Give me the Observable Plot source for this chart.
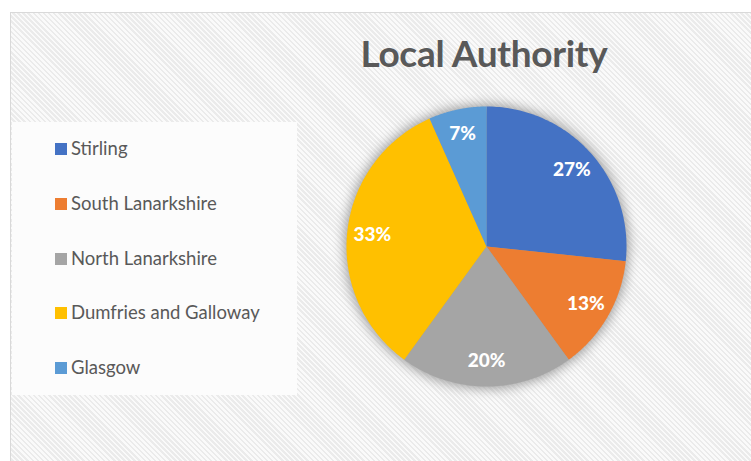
<!DOCTYPE html>
<html><head><meta charset="utf-8">
<script src="https://cdn.jsdelivr.net/npm/d3@7"></script>
<script src="https://cdn.jsdelivr.net/npm/@observablehq/plot@0.6"></script>
<style>
body{margin:0;background:#fff;}
#wrap{position:relative;width:751px;height:461px;overflow:hidden;font-family:Lato,"Open Sans",sans-serif;}
#area{position:absolute;left:10px;top:12px;width:745px;height:455px;border-top:1px solid #d9d9d9;border-left:1px solid #d9d9d9;
 background:repeating-linear-gradient(45deg,#fafafa 0 1.8px,#ebebeb 1.8px 3.6px);}
#title{position:absolute;left:0;width:968px;top:30px;text-align:center;font-weight:700;font-size:37px;color:#595959;letter-spacing:-0.3px;}
#legend{position:absolute;left:12px;top:122px;width:285px;height:273px;background:#fcfcfc;}
.item{position:absolute;left:43px;font-size:18.5px;color:#595959;line-height:20px;white-space:nowrap;}
.sw{display:inline-block;width:12px;height:12px;margin-right:4px;vertical-align:0px;}
#plot{position:absolute;left:0;top:0;}
#plot svg{background:transparent;}
#plot g[aria-label="dot"] circle{filter:blur(6px);}
</style></head>
<body>
<div id="wrap">
  <div id="area"></div>
  <div id="plot"></div>
  <div id="title">Local Authority</div>
  <div id="legend"></div>
</div>
<script>
const names = ["Stirling","South Lanarkshire","North Lanarkshire","Dumfries and Galloway","Glasgow"];
const counts = [4,2,3,5,1];
const pctLabels = ["27%","13%","20%","33%","7%"];
const colors = ["#4472c4","#ed7d31","#a5a5a5","#ffc000","#5b9bd5"];

const W = 751, H = 461, R = 140, CX = 486, CY = 246;
const arcs = d3.pie().sort(null).value(d => d)(counts);

const sliceMarks = arcs.map((a, i) => {
  const pts = [{x:0, y:0}];
  const n = 90;
  for (let k = 0; k <= n; k++) {
    const t = a.startAngle + (a.endAngle - a.startAngle) * k / n;
    pts.push({x: Math.sin(t), y: Math.cos(t)});
  }
  pts.push({x:0, y:0});
  return Plot.line(pts, {x:"x", y:"y", fill: colors[i], stroke: "none"});
});

const labelData = arcs.map((a, i) => {
  const m = (a.startAngle + a.endAngle) / 2;
  const rr = 0.82;
  return {x: rr * Math.sin(m), y: rr * Math.cos(m), t: pctLabels[i]};
});

const chart = Plot.plot({
  width: W, height: H, margin: 0,
  x: {domain: [-CX / R, (W - CX) / R], range: [0, W], axis: null},
  y: {domain: [-(H - CY) / R, CY / R], range: [H, 0], axis: null},
  style: {background: "transparent"},
  marks: [
    Plot.dot([{x:0, y:0}], {x:"x", y:"y", r: R + 2, fill: "#9a9a9a", stroke: "none"}),
    ...sliceMarks,
    Plot.text(labelData, {x:"x", y:"y", text:"t", fill:"white", fontWeight:900, fontSize:19, fontFamily:"Lato, 'Open Sans', sans-serif"})
  ]
});
document.getElementById("plot").appendChild(chart);

const legend = document.getElementById("legend");
names.forEach((nm, i) => {
  const d = document.createElement("div");
  d.className = "item";
  d.style.top = (16 + i * 54.8) + "px";
  d.innerHTML = `<span class="sw" style="background:${colors[i]}"></span>${nm}`;
  legend.appendChild(d);
});
</script>
</body></html>
